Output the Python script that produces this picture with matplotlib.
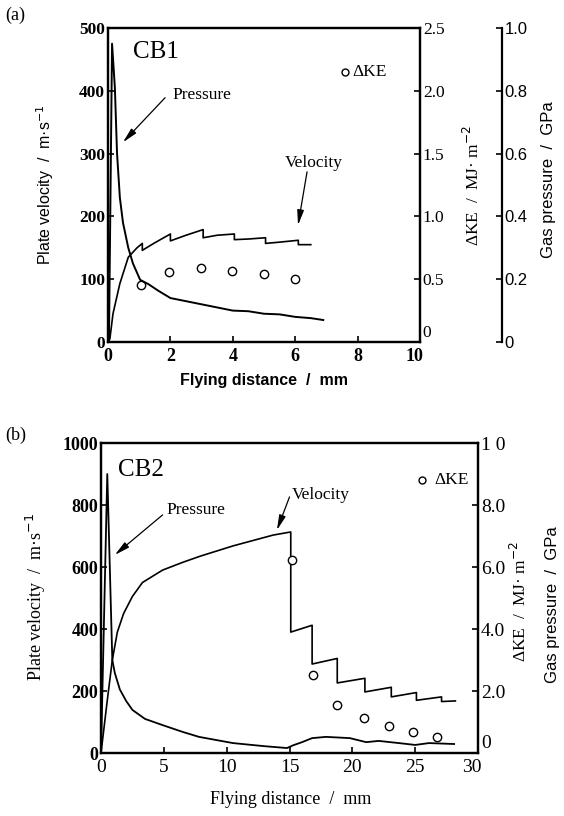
import matplotlib
matplotlib.use('Agg')
import matplotlib.pyplot as plt
from matplotlib.transforms import ScaledTranslation

W, H = 564, 816
SERIF = 'Liberation Serif'
SANS = 'Liberation Sans'

# ---- (a) CB1 ----
vel_a_x = [0, 0.06, 0.16, 0.38, 0.65, 0.93, 1.1, 1.1, 1.5, 2.0, 2.0, 2.5, 3.05, 3.05,
           3.5, 4.05, 4.05, 4.5, 5.05, 5.05, 5.5, 6.1, 6.1, 6.5]
vel_a_v = [0, 5, 45, 93, 135, 150, 157, 146, 158, 172, 161, 170, 179, 166,
           170, 172, 163, 164, 166, 157, 159, 162, 155, 155]
pres_a_x = [0.03, 0.13, 0.22, 0.29, 0.38, 0.48, 0.65, 0.8, 1.03, 1.3, 1.6, 2.0, 2.5,
            3.0, 3.5, 4.0, 4.5, 5.0, 5.5, 6.0, 6.5, 6.9]
pres_a_gpa = [0.0, 0.95, 0.81, 0.60, 0.46, 0.38, 0.30, 0.25, 0.198, 0.184, 0.164, 0.14,
              0.13, 0.12, 0.11, 0.10, 0.098, 0.09, 0.088, 0.08, 0.076, 0.07]
dke_a_x = [1.05, 1.97, 2.98, 3.97, 5.0, 6.0]
dke_a = [0.455, 0.56, 0.59, 0.565, 0.54, 0.50]

# ---- (b) CB2 ----
vel_b_x = [0, 0.5, 0.9, 1.3, 1.8, 2.5, 3.3, 4.9, 6.5, 7.9, 10.5, 13.7, 15.1, 15.1,
           16.8, 16.8, 18.8, 18.8, 21.0, 21.0, 23.1, 23.1, 25.1, 25.1, 27.1, 27.1, 28.2]
vel_b_v = [0, 170, 300, 390, 450, 505, 550, 590, 615, 635, 668, 703, 713, 390,
           412, 287, 305, 226, 241, 197, 212, 181, 195, 170, 181, 166, 168]
pres_b_x = [0, 0.5, 0.9, 1.1, 1.5, 2.0, 2.5, 3.5, 4.9, 6.5, 7.8, 10.5, 13.0, 14.8,
            15.3, 16.0, 16.8, 17.9, 19.8, 21.1, 22.1, 23.7, 25.0, 26.1, 28.1]
pres_b_gpa = [0, 9.0, 3.0, 2.58, 2.05, 1.68, 1.39, 1.10, 0.90, 0.68, 0.52, 0.32, 0.22,
              0.16, 0.25, 0.35, 0.48, 0.52, 0.48, 0.35, 0.39, 0.32, 0.26, 0.32, 0.29]
dke_b_x = [15.2, 16.9, 18.8, 20.9, 22.9, 24.8, 26.7]
dke_b = [6.23, 2.52, 1.55, 1.13, 0.87, 0.68, 0.52]

ARROW = dict(arrowstyle='-|>,head_length=0.9,head_width=0.2', color='k', lw=0.9,
             shrinkA=0, shrinkB=0)


def rect(l, t, r, b):
    return [l / W, 1 - b / H, (r - l) / W, (b - t) / H]


def style(ax):
    for s in ax.spines.values():
        s.set_linewidth(1.6)
    ax.tick_params(direction='in', length=4, width=1.2, pad=2)


def raise_zero(axr, axx):
    # right-axis "0" sits raised next to the last x label, as in the original
    lbl = axr.get_yticklabels()[0]
    lbl.set_va('bottom')
    lbl.set_transform(lbl.get_transform() + ScaledTranslation(0, 0.01, fig.dpi_scale_trans))
    last = axx.get_xticklabels()[-1]
    last.set_transform(last.get_transform() + ScaledTranslation(-0.06, 0, fig.dpi_scale_trans))


fig = plt.figure(figsize=(W / 100, H / 100), dpi=100)

# ================= panel (a) =================
ax = fig.add_axes(rect(108, 28, 420, 342))
style(ax)
ax.plot(vel_a_x, vel_a_v, color='k', lw=1.2)
ax.set_xlim(0, 10)
ax.set_ylim(0, 500)
ax.set_xticks([0, 2, 4, 6, 8, 10], ['0', '2', '4', '6', '8', '10'],
              fontfamily=SERIF, fontweight='bold', fontsize=13)
ax.set_yticks([0, 100, 200, 300, 400, 500], ['0', '100', '200', '300', '400', '500'],
              fontfamily=SERIF, fontweight='bold', fontsize=12.5)
ax.tick_params(axis='x', pad=4)

axk = ax.twinx()
style(axk)
axk.plot(dke_a_x, dke_a, 'o', mfc='white', mec='k', ms=6, mew=1)
axk.set_ylim(0, 2.5)
axk.set_yticks([0, 0.5, 1.0, 1.5, 2.0, 2.5], ['0', '0.5', '1.0', '1.5', '2.0', '2.5'],
               fontfamily=SERIF, fontsize=12.5)
raise_zero(axk, ax)

axg = ax.twinx()
axg.spines['right'].set_position(('axes', 1.263))
for k in ['top', 'left', 'bottom']:
    axg.spines[k].set_visible(False)
style(axg)
axg.plot(pres_a_x, pres_a_gpa, color='k', lw=1.4)
axg.set_ylim(0, 1.0)
axg.set_yticks([0, 0.2, 0.4, 0.6, 0.8, 1.0], ['0', '0.2', '0.4', '0.6', '0.8', '1.0'],
               fontfamily=SANS, fontsize=12)

ax.text(0.8, 462, 'CB1', fontfamily=SERIF, fontsize=18, va='center', ha='left')
ax.text(2.08, 393, 'Pressure', fontfamily=SERIF, fontsize=12.5, va='center', ha='left')
ax.annotate('', xy=(0.48, 318), xytext=(1.83, 389), arrowprops=ARROW)
ax.text(5.67, 285, 'Velocity', fontfamily=SERIF, fontsize=12.5, va='center', ha='left')
ax.annotate('', xy=(6.09, 186), xytext=(6.38, 271), arrowprops=ARROW)
ax.plot([7.6], [430], 'o', mfc='white', mec='k', ms=5, mew=1)
ax.text(7.82, 430, 'ΔKE', fontfamily=SERIF, fontsize=12.5, va='center', ha='left')

fig.text(5 / W, 1 - 15 / H, '(a)', fontfamily=SERIF, fontsize=13, va='center', ha='left')
fig.text(45 / W, 1 - 185 / H, 'Plate velocity  /  m·s$^{-1}$', fontfamily=SANS,
         fontsize=11.5, rotation=90, va='center', ha='center')
fig.text(264 / W, 1 - 380 / H, 'Flying distance  /  mm', fontfamily=SANS,
         fontsize=11.5, fontweight='bold', va='center', ha='center')
fig.text(473 / W, 1 - 185 / H, 'ΔKE  /  MJ· m$^{-2}$', fontfamily=SERIF,
         fontsize=12.5, rotation=90, va='center', ha='center')
fig.text(548 / W, 1 - 180 / H, 'Gas pressure  /  GPa', fontfamily=SANS,
         fontsize=12, rotation=90, va='center', ha='center')

# ================= panel (b) =================
bx = fig.add_axes(rect(101, 443, 478, 753))
style(bx)
bx.plot(vel_b_x, vel_b_v, color='k', lw=1.2)
bx.set_xlim(0, 30)
bx.set_ylim(0, 1000)
bx.set_xticks([0, 5, 10, 15, 20, 25, 30], ['0', '5', '10', '15', '20', '25', '30'],
              fontfamily=SERIF, fontsize=14)
bx.set_yticks([0, 200, 400, 600, 800, 1000], ['0', '200', '400', '600', '800', '1000'],
              fontfamily=SERIF, fontweight='bold', fontsize=13)
bx.tick_params(axis='x', pad=4)

bk = bx.twinx()
style(bk)
bk.plot(pres_b_x, pres_b_gpa, color='k', lw=1.3)
bk.plot(dke_b_x, dke_b, 'o', mfc='white', mec='k', ms=6, mew=1)
bk.set_ylim(0, 10)
bk.set_yticks([0, 2, 4, 6, 8, 10], ['0', '2.0', '4.0', '6.0', '8.0', '1 0'],
              fontfamily=SERIF, fontsize=14)
raise_zero(bk, bx)

bx.text(1.35, 913, 'CB2', fontfamily=SERIF, fontsize=18, va='center', ha='left')
bx.text(5.2, 784, 'Pressure', fontfamily=SERIF, fontsize=12.5, va='center', ha='left')
bx.annotate('', xy=(1.1, 639), xytext=(4.9, 768), arrowprops=ARROW)
bx.text(15.2, 832, 'Velocity', fontfamily=SERIF, fontsize=12.5, va='center', ha='left')
bx.annotate('', xy=(14.0, 719), xytext=(15.0, 826), arrowprops=ARROW)
bx.plot([25.55], [880], 'o', mfc='white', mec='k', ms=5, mew=1)
bx.text(26.5, 880, 'ΔKE', fontfamily=SERIF, fontsize=12.5, va='center', ha='left')

fig.text(5 / W, 1 - 435 / H, '(b)', fontfamily=SERIF, fontsize=13, va='center', ha='left')
fig.text(36 / W, 1 - 597 / H, 'Plate velocity  /  m·s$^{-1}$', fontfamily=SERIF,
         fontsize=13, rotation=90, va='center', ha='center')
fig.text(291 / W, 1 - 800 / H, 'Flying distance  /  mm', fontfamily=SERIF,
         fontsize=13, va='center', ha='center')
fig.text(520 / W, 1 - 601 / H, 'ΔKE  /  MJ· m$^{-2}$', fontfamily=SERIF,
         fontsize=12.5, rotation=90, va='center', ha='center')
fig.text(552 / W, 1 - 605 / H, 'Gas pressure  /  GPa', fontfamily=SANS,
         fontsize=12, rotation=90, va='center', ha='center')

fig.savefig('out.png', dpi=100)
